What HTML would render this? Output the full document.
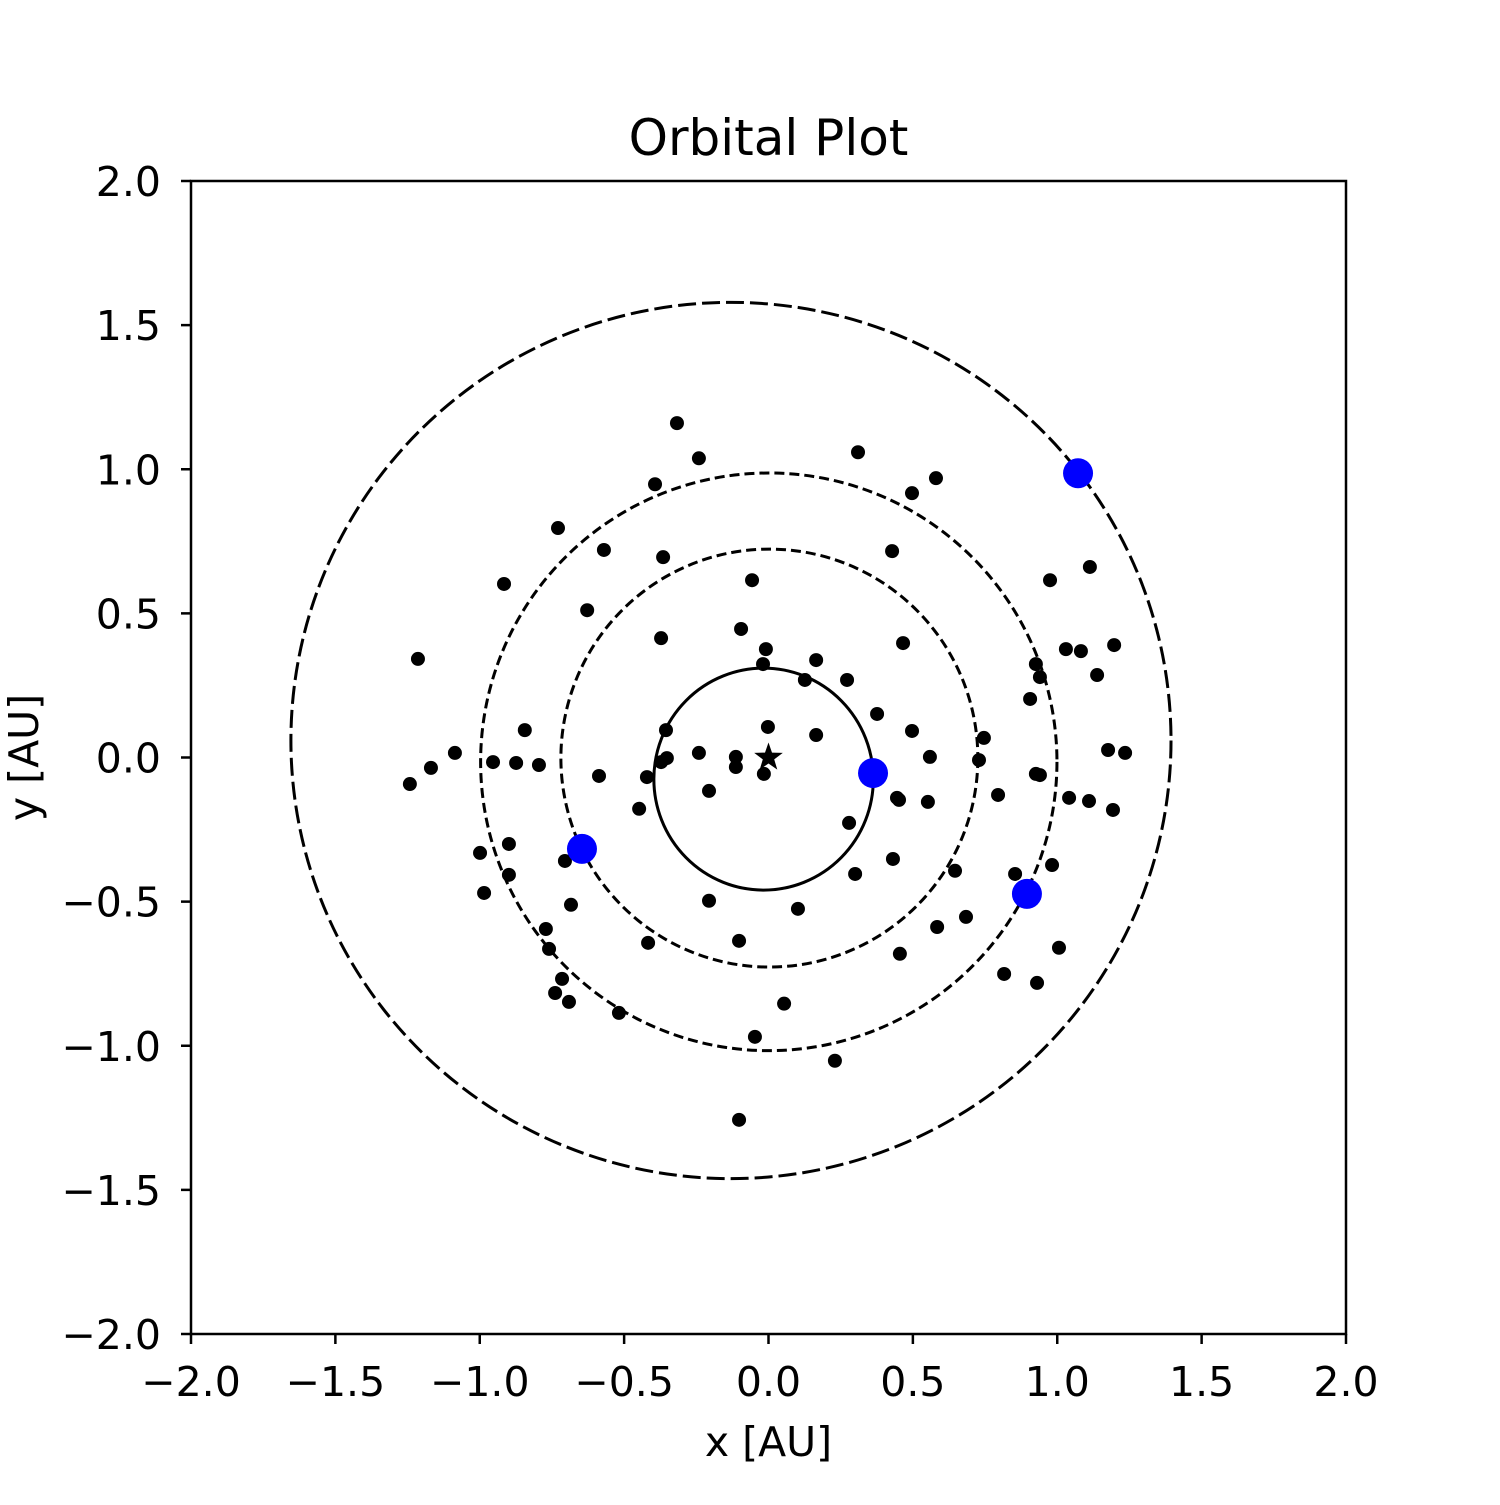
<!DOCTYPE html>
<html><head><meta charset="utf-8"><style>
body{margin:0;background:#fff}
svg text{font-family:"DejaVu Sans","Liberation Sans",sans-serif;fill:#000}
</style></head><body>
<svg id="chart" width="1500" height="1500" viewBox="0 0 1500 1500" xmlns="http://www.w3.org/2000/svg">
<rect width="1500" height="1500" fill="#fff"/>
<g id="orbits"></g>
<g id="dots"></g>
<g id="planets"></g>
<g id="axes"></g>
<text x="768.5" y="155" font-size="50" text-anchor="middle">Orbital Plot</text>
<text x="768.5" y="1456" font-size="41" text-anchor="middle">x [AU]</text>
<text transform="translate(38,757.5) rotate(-90)" font-size="41" text-anchor="middle">y [AU]</text>
</svg>
<script>
const xTicks=[-2,-1.5,-1,-0.5,0,0.5,1,1.5,2];
const yTicks=[-2,-1.5,-1,-0.5,0,0.5,1,1.5,2];
const tickLabels=["\u22122.0","\u22121.5","\u22121.0","\u22120.5","0.0","0.5","1.0","1.5","2.0"];
const orbitCx=[-0.017,0.003,0.001,-0.13];
const orbitCy=[-0.075,-0.002,-0.015,0.059];
const orbitRx=[0.38,0.722,0.998,1.524];
const orbitRy=[0.385,0.725,1.002,1.52];
const orbitDash=["none","10 5","10 5","18 6"];
const dotX=[-0.317,-0.241,-0.393,-0.729,-0.570,-0.365,-0.916,-0.628,-0.057,-0.095,-0.372,-0.009,-0.019,0.165,0.126,0.272,0.310,0.497,0.580,0.428,0.466,-1.214,-0.844,-0.355,-0.002,0.165,0.376,0.497,0.559,0.746,0.729,-1.086,-1.169,-1.242,-0.954,-0.874,-0.795,-0.587,-0.421,-0.372,-0.352,-0.241,-0.113,-0.113,-0.016,-0.206,-0.448,0.452,0.552,0.795,0.906,0.926,0.940,1.030,1.082,1.113,0.975,1.197,1.138,1.176,1.235,0.926,0.940,1.041,1.110,1.193,0.279,0.431,0.300,0.646,-0.999,-0.899,-0.985,-0.899,-0.705,-0.684,-0.771,-0.760,-0.417,-0.206,0.102,-0.102,0.584,0.684,0.455,0.816,0.930,1.006,0.854,0.982,-0.715,-0.739,-0.691,-0.518,-0.047,0.054,0.230,-0.102,0.445];
const dotY=[1.160,1.038,0.948,0.796,0.720,0.695,0.602,0.511,0.615,0.446,0.414,0.376,0.324,0.338,0.269,0.269,1.059,0.917,0.969,0.716,0.397,0.342,0.095,0.095,0.106,0.078,0.151,0.092,0.002,0.068,-0.009,0.016,-0.036,-0.092,-0.016,-0.019,-0.026,-0.064,-0.068,-0.016,-0.002,0.016,0.002,-0.033,-0.057,-0.116,-0.178,-0.147,-0.154,-0.130,0.203,0.324,0.279,0.376,0.369,0.661,0.615,0.390,0.286,0.026,0.016,-0.057,-0.061,-0.140,-0.151,-0.182,-0.227,-0.352,-0.404,-0.393,-0.331,-0.300,-0.470,-0.407,-0.359,-0.511,-0.595,-0.664,-0.643,-0.497,-0.525,-0.636,-0.588,-0.553,-0.681,-0.751,-0.782,-0.660,-0.404,-0.373,-0.768,-0.817,-0.848,-0.886,-0.969,-0.854,-1.052,-1.257,-0.140];
const planetX=[1.072,0.362,0.895,-0.646];
const planetY=[0.986,-0.054,-0.473,-0.317];

const NS="http://www.w3.org/2000/svg";
const L=191,R=1346,T=181,B=1334;
const sx=v=>L+(v+2)/4*(R-L);
const sy=v=>B-(v+2)/4*(B-T);
const kx=(R-L)/4, ky=(B-T)/4;
function mk(tag,parent,attrs){const e=document.createElementNS(NS,tag);for(const k in attrs)e.setAttribute(k,attrs[k]);parent.appendChild(e);return e;}
const og=document.getElementById('orbits');
for(let i=0;i<orbitCx.length;i++){
 const e=mk('ellipse',og,{cx:sx(orbitCx[i]),cy:sy(orbitCy[i]),rx:orbitRx[i]*kx,ry:orbitRy[i]*ky,fill:'none',stroke:'#000','stroke-width':3,'stroke-dasharray':orbitDash[i]});
 
 
}
const dg=document.getElementById('dots');
for(let i=0;i<dotX.length;i++){
 const c=mk('circle',dg,{cx:sx(dotX[i]),cy:sy(dotY[i]),r:7,fill:'#000'});
 
 
}
const st=[];for(let k=0;k<10;k++){const a=-Math.PI/2+k*Math.PI/5;const r=k%2?6:15;st.push((sx(0)+r*Math.cos(a)).toFixed(1)+','+(sy(0)+r*Math.sin(a)).toFixed(1));}
const star=mk('polygon',dg,{points:st.join(' '),fill:'#000'});


const pg=document.getElementById('planets');
for(let i=0;i<planetX.length;i++){
 const c=mk('circle',pg,{cx:sx(planetX[i]),cy:sy(planetY[i]),r:15,fill:'#0000ff'});
 
 
}
const ag=document.getElementById('axes');
const fr=mk('rect',ag,{x:L,y:T,width:R-L,height:B-T,fill:'none',stroke:'#000','stroke-width':2.5});


xTicks.forEach((v,i)=>{
 const t=mk('line',ag,{x1:sx(v),x2:sx(v),y1:B,y2:B+10,stroke:'#000','stroke-width':2.5});
 
 
 const tx=mk('text',ag,{x:sx(v),y:B+62,'font-size':41,'text-anchor':'middle'});
 tx.textContent=tickLabels[i];
 
 
});
yTicks.forEach((v,i)=>{
 const t=mk('line',ag,{x1:L-10,x2:L,y1:sy(v),y2:sy(v),stroke:'#000','stroke-width':2.5});
 
 
 const tx=mk('text',ag,{x:L-30,y:sy(v)+15,'font-size':41,'text-anchor':'end'});
 tx.textContent=tickLabels[i];
 
 
});
</script>
</body></html>
